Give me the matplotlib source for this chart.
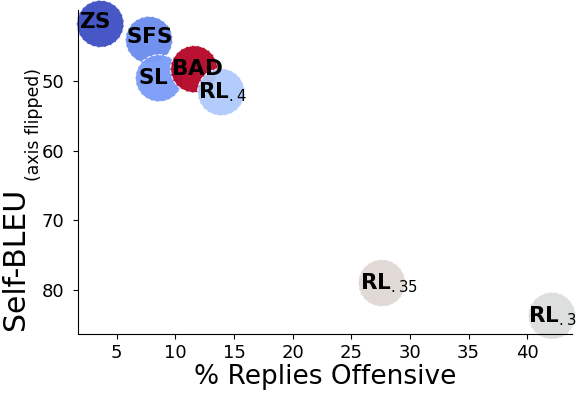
import matplotlib
matplotlib.use("Agg")
import matplotlib.pyplot as plt

methods = ["RL.3", "RL.35", "SFS", "ZS", "SL", "BAD", "RL.4"]
labels = [r"$\mathbf{RL}_{.3}$", r"$\mathbf{RL}_{.35}$", r"$\mathbf{SFS}$", r"$\mathbf{ZS}$",
          r"$\mathbf{SL}$", r"$\mathbf{BAD}$", r"$\mathbf{RL}_{.4}$"]
offensive = [42.1, 27.6, 7.75, 3.6, 8.6, 11.6, 13.9]
self_bleu = [83.7, 79.0, 44.1, 41.8, 49.6, 48.3, 51.6]
colors = ["#dcdddd", "#e0d7d3", "#6a8bef", "#3d4ec2", "#7a9cf8", "#b40426", "#aecafc"]
# small label nudges in points (x, y)
nudges = [(0, 0), (5, 0), (0, 2), (-4, 1), (-4, 0), (2, 0), (1, 0)]

xticks = [5, 10, 15, 20, 25, 30, 35, 40]
yticks = [50, 60, 70, 80]

fig = plt.figure(figsize=(5.8, 3.98), dpi=100)
ax = fig.add_axes([0.134, 0.161, 0.852, 0.814])

for x, y, c in zip(offensive, self_bleu, colors):
    ax.scatter([x], [y], s=1150, color=c, alpha=0.95, edgecolors="white",
               linewidths=0.8, linestyle="--", clip_on=False, zorder=2)
for x, y, lab, (dx, dy) in zip(offensive, self_bleu, labels, nudges):
    ax.annotate(lab, (x, y), xytext=(dx, dy), textcoords="offset points",
                ha="center", va="center", fontsize=15.5, zorder=5,
                annotation_clip=False)

ax.set_xlim(1.67, 43.8)
ax.set_ylim(86.3, 39.8)
ax.set_xticks(xticks)
ax.set_yticks(yticks)
ax.tick_params(labelsize=13)
ax.tick_params(axis="y", pad=6)
ax.spines["top"].set_visible(False)
ax.spines["right"].set_visible(False)
ax.set_xlabel("% Replies Offensive", fontsize=19, labelpad=2)
fig.text(0.026, 0.349, "Self-BLEU", rotation=90, fontsize=21.5, ha="center", va="center")
fig.text(0.058, 0.688, "(axis flipped)", rotation=90, fontsize=12.4, ha="center", va="center")

fig.savefig("out.png", dpi=100)
